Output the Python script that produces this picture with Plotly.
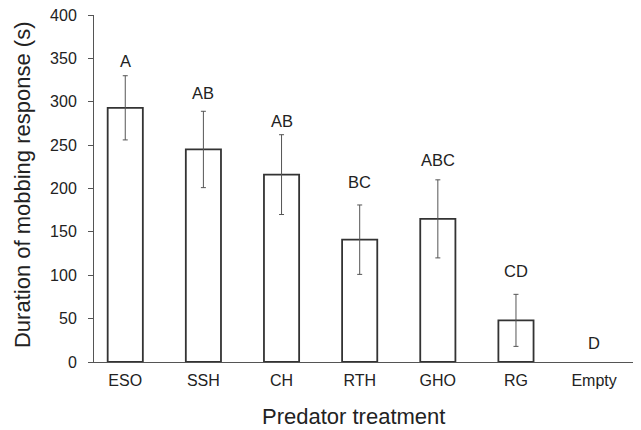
import plotly.graph_objects as go

categories = ["ESO", "SSH", "CH", "RTH", "GHO", "RG", "Empty"]
means = [293, 245, 216, 141, 165, 48, 0]
errors = [37, 44, 46, 40, 45, 30, 0]
letters = ["A", "AB", "AB", "BC", "ABC", "CD", "D"]
letter_y = [347, 310, 278, 208, 233, 105, 22]

FONT = "Liberation Sans, Arial"
# page body has an 8px margin; plot area placed so it lands at the reference position
L, T, B, R = 86, 7, 76, 8
PW = 641 - L - R
PH = 430 - T - B

# a zero-height bar (Empty) draws nothing in the reference
idx = [i for i, m in enumerate(means) if m > 0]

fig = go.Figure()
fig.add_trace(go.Bar(
    x=idx, y=[means[i] for i in idx], width=0.45,
    marker=dict(color="white", line=dict(color="#333333", width=1.8)),
    error_y=dict(type="data", array=[errors[i] for i in idx], visible=True,
                 color="#555555", thickness=1, width=2.5),
    showlegend=False,
))
for i, (lab, ly) in enumerate(zip(letters, letter_y)):
    fig.add_annotation(x=i, y=ly, text=lab, showarrow=False,
                       font=dict(family=FONT, size=16.5, color="#222222"))

fig.add_annotation(xref="paper", yref="paper", x=(14 - L) / PW, y=0.51,
                   text="Duration of mobbing response (s)", textangle=-90, showarrow=False,
                   xanchor="center", yanchor="middle",
                   font=dict(family=FONT, size=22, color="#222222"))
fig.add_annotation(xref="paper", yref="paper", x=(345 - L) / PW, y=-(409 - (T + PH)) / PH,
                   text="Predator treatment", showarrow=False,
                   xanchor="center", yanchor="middle",
                   font=dict(family=FONT, size=22, color="#222222"))

fig.update_layout(
    width=641, height=430,
    margin=dict(l=L, r=R, t=T, b=B, autoexpand=False),
    plot_bgcolor="white", paper_bgcolor="white",
    font=dict(family=FONT, color="#222222"),
)
fig.update_xaxes(
    range=[-0.4, 6.6], tickmode="array", tickvals=list(range(len(categories))), ticktext=categories,
    showline=True, linecolor="#555555", linewidth=1, ticks="", showgrid=False, zeroline=False,
    tickfont=dict(size=16), automargin=False, ticklabelstandoff=4,
)
fig.update_yaxes(
    range=[0, 400], dtick=50, showline=True, linecolor="#555555", linewidth=1,
    ticks="outside", ticklen=5, tickcolor="#555555", showgrid=False, zeroline=False,
    tickfont=dict(size=16), ticklabelstandoff=8, automargin=False, ticklabeloverflow="allow",
)
fig.write_html("out.html")
